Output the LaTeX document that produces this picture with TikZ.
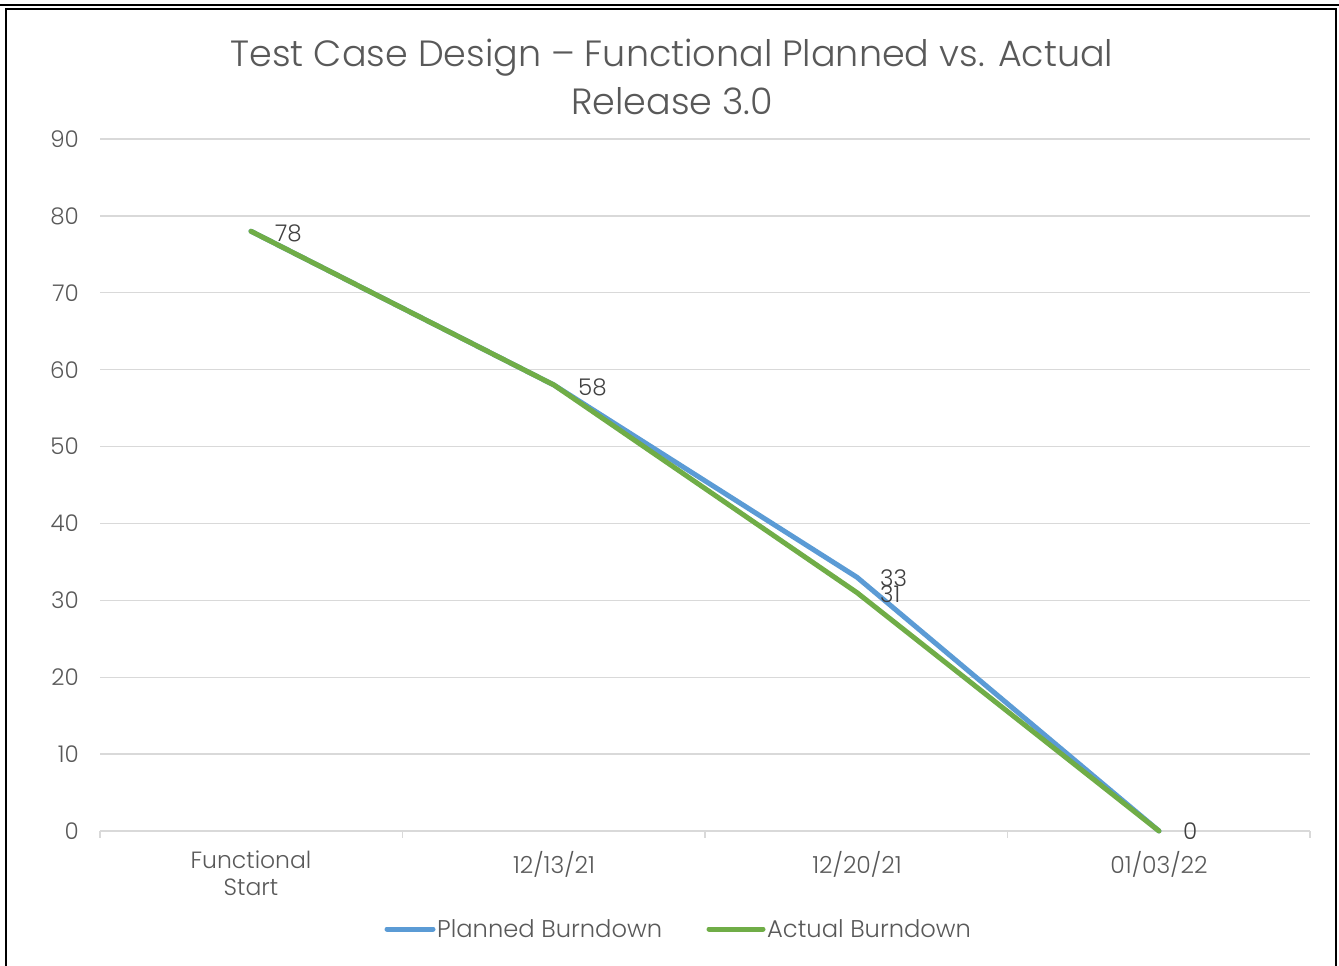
\documentclass[tikz,border=0pt]{standalone}
\usepackage{fontspec}
\IfFontExistsTF{Poppins Light}{\setmainfont{Poppins Light}}{\setmainfont{Poppins}}
\definecolor{axtext}{HTML}{595959}
\definecolor{lbltext}{HTML}{404040}
\definecolor{grid}{HTML}{D9D9D9}
\definecolor{planned}{HTML}{5B9BD5}
\definecolor{actual}{HTML}{70AD47}
\tikzset{
  gridline/.style={draw=grid,line width=1.3pt},
  ylab/.style={anchor=east,text=axtext,font=\fontsize{23}{27}\selectfont,inner sep=0pt},
  xlab/.style={anchor=north,text=axtext,font=\fontsize{23.5}{27}\selectfont,align=center,inner sep=0pt},
  dlab/.style={anchor=west,text=lbltext,font=\fontsize{23}{27}\selectfont,inner sep=0pt},
  series/.style={line width=5pt,line cap=round,line join=round},
  legtext/.style={anchor=west,text=axtext,font=\fontsize{24.2}{28}\selectfont,inner sep=0pt},
}
\begin{document}
\begin{tikzpicture}[x=1pt,y=-1pt]
\useasboundingbox (0,0) rectangle (1339,966);
\fill[white] (0,0) rectangle (1339,966);
% frame
\draw[line width=2.5pt] (0,5) -- (1339,5);
\draw[line width=2.5pt] (6,975) -- (6,9) -- (1336,9) -- (1336,975);
% title
\node[text=axtext,font=\fontsize{36.5}{48}\selectfont,align=center,inner sep=0pt] (title) at (672,77)
  {Test Case Design -- Functional Planned vs. Actual\\Release 3.0};
% grid
\foreach \v in {10,20,...,90} {
  \draw[gridline] (100,{831-\v*7.689}) -- (1310,{831-\v*7.689});
}
\foreach \v in {0,10,...,90} {
  \node[ylab] (y\v) at (79,{831-\v*7.689}) {\v};
}
% x axis
\draw[gridline] (100,831) -- (1310,831);
\foreach \x in {100,402.5,705,1007.5,1310} {
  \draw[gridline] (\x,831) -- (\x,838);
}
\node[xlab] (c1) at (251,851) {Functional\\Start};
\node[xlab] (c2) at (554,851) {12/13/21};
\node[xlab] (c3) at (857,851) {12/20/21};
\node[xlab] (c4) at (1159,851) {01/03/22};
% data points
\coordinate (p1) at (251,{831-78*7.689});
\coordinate (p2) at (554,{831-58*7.689});
\coordinate (p3) at (857,{831-33*7.689});
\coordinate (p4) at (1159,831);
\coordinate (a1) at (251,{831-78*7.689});
\coordinate (a2) at (554,{831-58*7.689});
\coordinate (a3) at (857,{831-31*7.689});
\coordinate (a4) at (1159,831);
\draw[series,planned] (p1) -- (p2) -- (p3) -- (p4);
\draw[series,actual] (a1) -- (a2) -- (a3) -- (a4);
% data labels
\node[dlab] (l78) at (275,233) {78};
\node[dlab] (l58) at (578,387) {58};
\node[dlab] (l33) at (880,578) {33};
\node[dlab] (l31) at (880,594) {31};
\node[dlab] (l0) at (1183,831) {0};
% legend
\coordinate (lb1) at (387,929);
\coordinate (lb2) at (433,929);
\draw[series,planned] (lb1) -- (lb2);
\node[legtext] (lgp) at (437,929) {Planned Burndown};
\coordinate (lg1) at (709,929);
\coordinate (lg2) at (763,929);
\draw[series,actual] (lg1) -- (lg2);
\node[legtext] (lga) at (767,929) {Actual Burndown};
\end{tikzpicture}
\end{document}
